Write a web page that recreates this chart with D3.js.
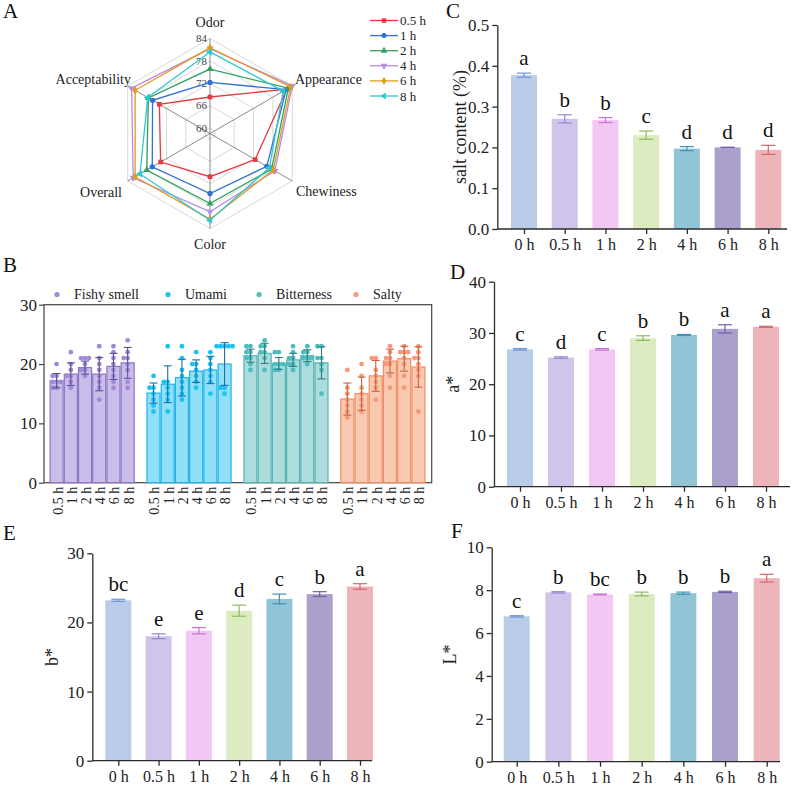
<!DOCTYPE html>
<html>
<head>
<meta charset="utf-8">
<script src="https://cdnjs.cloudflare.com/ajax/libs/d3/7.8.5/d3.min.js"></script>
<style>
body { margin: 0; background: #fff; }
svg { display: block; }
svg text { font-family: "Liberation Serif", "Times New Roman", "DejaVu Serif", serif !important; }
</style>
</head>
<body>
<div id="chart"></div>
<script>
// ---------- data ----------
// A: radar (sensory scores)
var radarAxes = ["Odor", "Appearance", "Chewiness", "Color", "Overall", "Acceptability"];
var radarTimes = ["0.5 h", "1 h", "2 h", "4 h", "6 h", "8 h"];
var radar05 = [68.3, 82.3, 72.5, 70.1, 73.8, 74.2];
var radar1  = [72.2, 82.1, 76.1, 74.6, 76.4, 76.3];
var radar2  = [75.8, 82.8, 77.6, 77.3, 78.1, 77.6];
var radar4  = [81.3, 84.0, 78.6, 79.5, 82.3, 82.8];
var radar6  = [81.5, 83.5, 78.1, 81.5, 81.7, 81.7];
var radar8  = [80.4, 81.2, 76.9, 81.8, 80.2, 77.8];
var radarTicks = [60, 66, 72, 78, 84];

// B: sensory bars with individual scores
var sensoryGroups = ["Fishy smell", "Umami", "Bitterness", "Salty"];
var sensoryTimes = ["0.5 h", "1 h", "2 h", "4 h", "6 h", "8 h"];
var fishyMean = [17.2, 18.3, 19.4, 18.3, 19.6, 20.2];
var fishySd   = [1.2, 1.9, 1.1, 2.8, 2.2, 2.6];
var fishyDots = [[20, 18, 18, 17, 17, 17, 16, 16], [22, 20, 19, 18, 18, 17, 16], [21, 21, 21, 20, 19, 19, 18],
                 [23, 21, 20, 19, 18, 17, 16, 14], [23, 22, 21, 20, 19, 18, 17, 16], [24, 22, 21, 21, 20, 19, 17, 16]];
var umamiMean = [15.1, 16.6, 17.7, 18.8, 19.0, 20.0];
var umamiSd   = [1.7, 3.1, 3.1, 1.9, 2.3, 3.6];
var umamiDots = [[18, 16, 16, 15, 14, 13, 12], [23, 17, 17, 16, 15, 14, 12], [23, 21, 19, 18, 17, 16, 15, 14],
                 [22, 20, 20, 19, 18, 17, 16], [22, 21, 20, 19, 18, 17, 15], [23, 23, 23, 23, 23, 16, 16, 15]];
var bitterMean = [21.4, 21.8, 20.1, 20.7, 21.4, 20.2];
var bitterSd   = [1.1, 1.7, 1.0, 1.1, 1.0, 2.7];
var bitterDots = [[23, 23, 22, 22, 21, 21, 20, 19], [24, 23, 23, 22, 22, 21, 19], [22, 22, 20, 20, 20, 19, 19],
                  [23, 22, 21, 21, 20, 20, 19], [23, 22, 22, 21, 21, 21, 20], [23, 23, 21, 21, 20, 19, 15]];
var saltyMean = [14.1, 15.0, 18.0, 20.5, 20.9, 19.5];
var saltySd   = [2.7, 2.8, 2.6, 2.0, 2.1, 3.4];
var saltyDots = [[19, 16, 15, 14, 13, 12, 11], [20, 18, 16, 15, 14, 13, 12], [21, 21, 19, 18, 17, 16, 14],
                 [23, 22, 21, 21, 20, 20, 18, 16], [23, 22, 22, 22, 21, 20, 18, 16], [23, 22, 21, 21, 20, 19, 18, 12]];

// C-F: bar panels
var barTimes = ["0 h", "0.5 h", "1 h", "2 h", "4 h", "6 h", "8 h"];
var saltValues  = [0.377, 0.270, 0.267, 0.230, 0.197, 0.200, 0.194];
var saltSd      = [0.005, 0.010, 0.006, 0.010, 0.005, 0.000, 0.011];
var saltLetters = ["a", "b", "b", "c", "d", "d", "d"];
var aValues  = [26.8, 25.2, 26.8, 29.0, 29.6, 30.8, 31.2];
var aSd      = [0.15, 0.15, 0.15, 0.45, 0.1, 0.8, 0.1];
var aLetters = ["c", "d", "c", "b", "b", "a", "a"];
var bValues  = [23.2, 18.0, 18.8, 21.7, 23.4, 24.1, 25.2];
var bSd      = [0.15, 0.35, 0.45, 0.8, 0.7, 0.35, 0.4];
var bLetters = ["bc", "e", "e", "d", "c", "b", "a"];
var lValues  = [6.78, 7.90, 7.80, 7.82, 7.86, 7.92, 8.56];
var lSd      = [0.03, 0.03, 0.02, 0.09, 0.05, 0.03, 0.18];
var lLetters = ["c", "b", "bc", "b", "b", "b", "a"];

// ---------- styles ----------
var radarColors = ["#e8393f", "#2f6fd6", "#33a164", "#b98be8", "#e39c1c", "#2cc8d2"];
var radarSymbols = [d3.symbolSquare, d3.symbolCircle, d3.symbolTriangle, d3.symbolTriangle, d3.symbolDiamond, d3.symbolTriangle];
var radarRotate = [0, 0, 0, 180, 0, -90];
var groupFill   = ["#cbbde9", "#8fe0f8", "#acdcdc", "#f9c9b2"];
var groupStroke = ["#8a76c4", "#22b4e6", "#56b2b6", "#f28e66"];
var groupDot    = ["#9f8ad8", "#1ec2f2", "#4dbcbc", "#f5997a"];
var groupErr    = ["#5e4e94", "#1a6fa8", "#2f7d80", "#c8643e"];
var barFill  = ["#b9cde9", "#cfc4e9", "#f2c7f3", "#dcebc0", "#92c4d8", "#ab9fcb", "#edb5ba"];
var barErr   = ["#7193d2", "#9a86d2", "#c672d2", "#8dbb62", "#4093b2", "#6f5fa8", "#d3666f"];
var ink = "#2b2b2b";

var svg = d3.select("#chart").append("svg")
    .attr("width", 796)
    .attr("height", 785);

function panelLabel(t, x, y) {
    svg.append("text").attr("x", x).attr("y", y)
        .style("font-size", "21px").attr("fill", "#111").text(t);
}

// ---------- A: radar ----------
(function radar() {
    var cx = 210, cy = 133.5;
    var r = d3.scaleLinear().domain([58.5, 84]).range([0, 95]);
    var ang = function(i) { return i * Math.PI / 3; };
    var pt = function(i, v) { return [cx + r(v) * Math.sin(ang(i)), cy - r(v) * Math.cos(ang(i))]; };
    var g = svg.append("g");

    radarTicks.forEach(function(t) {
        g.append("path")
            .attr("d", d3.line()(radarAxes.map(function(a, i) { return pt(i, t); })) + "Z")
            .attr("fill", "none").attr("stroke", "#d9d9d9").attr("stroke-width", 1);
    });
    radarAxes.forEach(function(a, i) {
        var p = pt(i, 84);
        g.append("line").attr("x1", cx).attr("y1", cy).attr("x2", p[0]).attr("y2", p[1])
            .attr("stroke", "#8a8a8a").attr("stroke-width", 1);
    });
    radarTicks.forEach(function(t) {
        g.append("text").attr("x", cx - 3).attr("y", cy - r(t)).attr("dy", "0.35em")
            .attr("text-anchor", "end").style("font-size", "11px").attr("fill", "#444").text(t);
    });

    var labelPos = [[210, 27, "middle"], [295, 84, "start"], [296, 196, "start"],
                    [210, 249, "middle"], [122, 197, "end"], [131, 84, "end"]];
    radarAxes.forEach(function(a, i) {
        g.append("text").attr("x", labelPos[i][0]).attr("y", labelPos[i][1])
            .attr("text-anchor", labelPos[i][2]).style("font-size", "14px").attr("fill", "#222").text(a);
    });

    var series = [radar05, radar1, radar2, radar4, radar6, radar8];
    series.forEach(function(s, k) {
        var pts = s.map(function(v, i) { return pt(i, v); });
        g.append("path").attr("d", d3.line()(pts) + "Z")
            .attr("fill", "none").attr("stroke", radarColors[k]).attr("stroke-width", 1.3);
        g.selectAll(null).data(pts).enter().append("path")
            .attr("d", d3.symbol().type(radarSymbols[k]).size(22))
            .attr("transform", function(d) { return "translate(" + d[0] + "," + d[1] + ") rotate(" + radarRotate[k] + ")"; })
            .attr("fill", radarColors[k]);
    });

    var lg = svg.append("g");
    radarTimes.forEach(function(t, k) {
        var y = 20.5 + k * 15.1;
        lg.append("line").attr("x1", 370).attr("x2", 398).attr("y1", y).attr("y2", y)
            .attr("stroke", radarColors[k]).attr("stroke-width", 1.3);
        lg.append("path").attr("d", d3.symbol().type(radarSymbols[k]).size(20))
            .attr("transform", "translate(384," + y + ") rotate(" + radarRotate[k] + ")")
            .attr("fill", radarColors[k]);
        lg.append("text").attr("x", 400).attr("y", y).attr("dy", "0.35em")
            .style("font-size", "13px").attr("fill", "#222").text(t);
    });
    panelLabel("A", 3, 18);
})();

// ---------- B: grouped bars with dots ----------
(function sensory() {
    var ax = 44, right = 431.7, y0 = 482.7, yTop = 304.7;
    var y = d3.scaleLinear().domain([0, 30]).range([y0, yTop]);
    var xg = d3.scaleBand().domain(sensoryGroups).range([43, 432]).paddingInner(0.12).paddingOuter(0.067);
    var xi = d3.scaleBand().domain(sensoryTimes).range([0, xg.bandwidth()]);
    var means = [fishyMean, umamiMean, bitterMean, saltyMean];
    var sds = [fishySd, umamiSd, bitterSd, saltySd];
    var dots = [fishyDots, umamiDots, bitterDots, saltyDots];
    var g = svg.append("g");

    g.append("rect").attr("x", ax).attr("y", yTop).attr("width", right - ax).attr("height", y0 - yTop)
        .attr("fill", "none").attr("stroke", "#444").attr("stroke-width", 1.2);

    var yAxis = g.append("g").attr("transform", "translate(" + ax + ",0)")
        .call(d3.axisLeft(y).tickValues([0, 10, 20, 30]).tickSize(5).tickSizeOuter(0).tickPadding(2));
    yAxis.select(".domain").remove();
    yAxis.selectAll("line").attr("stroke", "#444").attr("stroke-width", 1.2);
    yAxis.selectAll("text").style("font-size", "17px").attr("fill", "#222");

    sensoryGroups.forEach(function(grp, gi) {
        var gx = xg(grp);
        sensoryTimes.forEach(function(t, ti) {
            var bx = gx + xi(t), bw = xi.bandwidth(), cx = bx + bw / 2;
            var m = means[gi][ti], s = sds[gi][ti];
            g.append("rect").attr("x", bx + 0.6).attr("y", y(m)).attr("width", bw - 1.2).attr("height", y0 - y(m))
                .attr("fill", groupFill[gi]).attr("stroke", groupStroke[gi]).attr("stroke-width", 1.2);
            // dots, spread sideways when values repeat
            var seen = {};
            dots[gi][ti].forEach(function(v) {
                var n = seen[v] || 0; seen[v] = n + 1;
                var off = n === 0 ? 0 : (n % 2 ? -1 : 1) * Math.ceil(n / 2) * 4;
                g.append("circle").attr("cx", cx + off).attr("cy", y(v)).attr("r", 2.4).attr("fill", groupDot[gi]);
            });
            var e = g.append("g").attr("stroke", groupErr[gi]).attr("stroke-width", 1.1);
            e.append("line").attr("x1", cx).attr("x2", cx).attr("y1", y(m + s)).attr("y2", y(m - s));
            e.append("line").attr("x1", cx - 4).attr("x2", cx + 4).attr("y1", y(m + s)).attr("y2", y(m + s));
            e.append("line").attr("x1", cx - 4).attr("x2", cx + 4).attr("y1", y(m - s)).attr("y2", y(m - s));
            g.append("text").attr("transform", "translate(" + (cx + 1) + "," + (y0 + 4) + ") rotate(-90)")
                .attr("text-anchor", "end").attr("dy", "0.35em").style("font-size", "14px").attr("fill", "#222").text(t);
        });
    });

    var legendX = [57, 168, 259, 356];
    sensoryGroups.forEach(function(grp, gi) {
        g.append("circle").attr("cx", legendX[gi]).attr("cy", 294.5).attr("r", 2.6).attr("fill", groupDot[gi]);
        g.append("text").attr("x", legendX[gi] + 17).attr("y", 294.5).attr("dy", "0.35em")
            .style("font-size", "14px").attr("fill", "#222").text(grp);
    });
    panelLabel("B", 3, 272);
})();

// ---------- C-F: simple bar panels ----------
function barPanel(o) {
    var x = d3.scalePoint().domain(barTimes).range([o.first, o.last]);
    var y = d3.scaleLinear().domain([0, o.max]).range([o.y0, o.yTop]);
    var g = svg.append("g");
    var bw = 26;

    g.selectAll(".bar").data(o.values).enter().append("rect")
        .attr("x", function(d, i) { return x(barTimes[i]) - bw / 2; })
        .attr("y", function(d) { return y(d); })
        .attr("width", bw)
        .attr("height", function(d) { return o.y0 - y(d); })
        .attr("fill", function(d, i) { return barFill[i]; });

    o.values.forEach(function(v, i) {
        var cx = x(barTimes[i]), s = o.sd[i];
        var e = g.append("g").attr("stroke", barErr[i]).attr("stroke-width", 1.2);
        e.append("line").attr("x1", cx).attr("x2", cx).attr("y1", y(v + s)).attr("y2", y(v - s));
        e.append("line").attr("x1", cx - 7).attr("x2", cx + 7).attr("y1", y(v + s)).attr("y2", y(v + s));
        e.append("line").attr("x1", cx - 7).attr("x2", cx + 7).attr("y1", y(v - s)).attr("y2", y(v - s));
        g.append("text").attr("x", cx).attr("y", y(v + s) - 8).attr("text-anchor", "middle")
            .style("font-size", "21px").attr("fill", "#111").text(o.letters[i]);
    });

    var yAxis = g.append("g").attr("transform", "translate(" + o.ax + ",0)")
        .call(d3.axisLeft(y).tickValues(d3.range(0, o.max + o.step / 2, o.step))
            .tickFormat(d3.format(o.fmt)).tickSize(5).tickSizeOuter(0).tickPadding(3));
    var xAxis = g.append("g").attr("transform", "translate(0," + o.y0 + ")")
        .call(d3.axisBottom(x).tickSize(5).tickSizeOuter(0).tickPadding(5));
    xAxis.select(".domain").remove();
    g.append("line").attr("x1", o.ax).attr("x2", o.xEnd).attr("y1", o.y0).attr("y2", o.y0)
        .attr("stroke", ink).attr("stroke-width", 1.3);
    [yAxis, xAxis].forEach(function(a) {
        a.selectAll("line, .domain").attr("stroke", ink).attr("stroke-width", 1.3);
        a.selectAll("text").attr("fill", "#222");
    });
    yAxis.selectAll("text").style("font-size", "17px");
    xAxis.selectAll("text").style("font-size", "16px");

    g.append("text").attr("transform", "translate(" + o.titleX + "," + ((o.y0 + o.yTop) / 2) + ") rotate(-90)")
        .attr("text-anchor", "middle").attr("dy", "0.35em")
        .style("font-size", "18px").attr("fill", "#222").text(o.title);
    panelLabel(o.label, o.labelX, o.labelY);
}

barPanel({ values: saltValues, sd: saltSd, letters: saltLetters, ax: 497.3, xEnd: 787, first: 524, last: 768.3,
    y0: 229, yTop: 25, max: 0.5, step: 0.1, fmt: ".1f", title: "salt content (%)", titleX: 460,
    label: "C", labelX: 446, labelY: 18 });
barPanel({ values: aValues, sd: aSd, letters: aLetters, ax: 494, xEnd: 790, first: 520, last: 766,
    y0: 486.7, yTop: 281.7, max: 40, step: 10, fmt: "d", title: "a*", titleX: 453,
    label: "D", labelX: 450, labelY: 279 });
barPanel({ values: bValues, sd: bSd, letters: bLetters, ax: 92.3, xEnd: 372, first: 118.3, last: 360,
    y0: 760.7, yTop: 553.3, max: 30, step: 10, fmt: "d", title: "b*", titleX: 52,
    label: "E", labelX: 3, labelY: 540 });
barPanel({ values: lValues, sd: lSd, letters: lLetters, ax: 491.7, xEnd: 780, first: 516.7, last: 766.7,
    y0: 761.7, yTop: 547.3, max: 10, step: 2, fmt: "d", title: "L*", titleX: 450,
    label: "F", labelX: 451, labelY: 538 });
</script>
</body>
</html>
